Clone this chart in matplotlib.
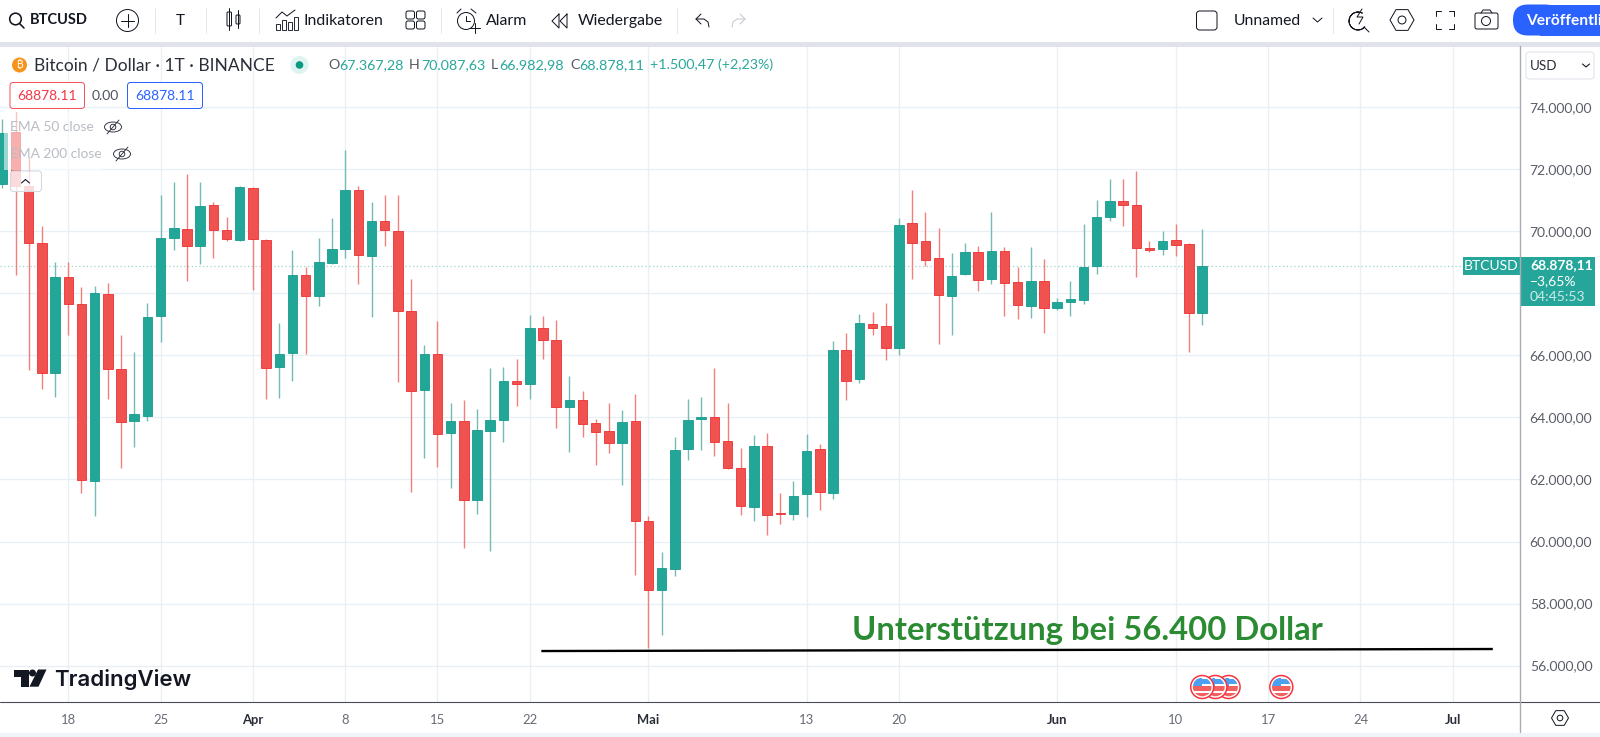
import numpy as np
import pandas as pd
import matplotlib
matplotlib.use("Agg")
import matplotlib.pyplot as plt
import matplotlib.dates as mdates
from matplotlib.patches import Rectangle, Circle, FancyBboxPatch, Polygon, Wedge, RegularPolygon

# ---------- data (USD, daily candles) ----------
first_day = "2024-03-13"
opens = [71514,73191,71460,69633,65442,68516,67667,61960,67989,65571,63884,64056,67269,69773,70063,69537,70837,70031,69719,71385,
         69719,65625,66087,68591,67925,68988,69440,71331,69203,70321,70009,67441,64894,66033,63486,63894,61347,63572,63926,65162,
         65066,66893,66484,64346,64550,63808,63550,63174,63894,60670,58445,59112,62970,63959,64002,63228,62357,61121,63088,60907,
         60896,61530,62970,61573,66173,65249,67011,66947,66227,70267,69687,69139,67925,68612,69322,68473,69375,68355,67602,68387,
         67527,67720,67785,68881,70472,70987,70837,69461,69429,69719,69580,67367]
closes = [73180,71460,69633,65442,68516,67667,61992,68021,65571,63862,64109,67237,69773,70095,69537,70815,70031,69741,71417,69752,
          65603,66055,68591,67925,68999,69429,71331,69225,70321,70031,67441,64861,66033,63464,63894,61347,63583,63926,65173,65066,
          66893,66506,64324,64550,63776,63540,63174,63862,60670,58445,59133,62938,63916,64012,63196,62357,61154,63088,60864,60885,
          61465,62905,61584,66173,65184,67033,66893,66248,70203,69633,69085,67957,68559,69322,68440,69375,68333,67634,68387,67527,
          67731,67817,68849,70461,70977,70837,69461,69397,69687,69569,67376,68878]
highs = [73620,73835,72406,70181,68999,68999,68193,68247,68344,66646,66098,67677,71170,71600,71858,71600,70934,70450,71460,71417,
         69741,67033,69408,68859,69773,70418,72610,71460,70934,71170,71170,68452,66323,67097,64453,64560,64270,65603,65625,65882,
         67301,67269,67129,65334,64851,63948,64475,64238,64743,60821,59660,63378,64593,64646,65603,64453,63002,63432,63486,61551,
         61938,63454,63132,66463,66732,67333,67387,67677,70418,71321,70622,70095,69289,69612,69526,70622,69483,68860,69483,69096,
         67839,68397,70246,71020,71686,71686,71944,69698,70009,70246,69612,70088]
lows = [71407,68591,65528,64915,64668,66656,61573,60831,64604,62358,63056,63884,66441,69397,68408,68935,69128,69676,69698,68107,
        64604,64636,65184,66044,67602,68935,69128,68301,67226,69537,65152,61605,62701,62411,61723,59800,60885,59703,63217,64378,
        64604,65893,63658,62873,63368,62476,62841,61831,58929,56554,56995,58897,62637,62949,62766,62325,60853,60649,60219,60573,
        60702,60799,61015,61380,64561,65098,66656,65840,66022,68473,68881,66366,66656,68591,68086,68301,67258,67172,67204,66710,
        67462,67258,67667,68612,70332,70171,68526,69343,69236,69203,66108,66983]
price_ticks = [56000,58000,60000,62000,64000,66000,68000,70000,72000,74000]
hidden_price_labels = [68000]   # covered by the last-price box
date_ticks = ["2024-03-18","2024-03-25","2024-04-01","2024-04-08","2024-04-15","2024-04-22","2024-05-01","2024-05-13",
              "2024-05-20","2024-06-01","2024-06-10","2024-06-17","2024-06-24","2024-07-01"]
date_labels = ["18","25","Apr","8","15","22","Mai","13","20","Jun","10","17","24","Jul"]
bold_labels = ["Apr","Mai","Jun","Jul"]
last_price = 68878.11
support_level = [56469,56534]
support_dates = ["2024-04-22 21:00","2024-07-04 01:00"]
support_text = "Unterstützung bei 56.400 Dollar"
event_dates = ["2024-06-14","2024-06-13","2024-06-12","2024-06-18"]

# ---------- colours / fonts ----------
UP, DOWN = "#22a698", "#f0524f"
UP_WICK, DOWN_WICK = "#74bcb3", "#f37f7d"
GRID = "#e9f0f5"
FONT = "Lato"
plt.rcParams["font.family"] = [FONT, "DejaVu Sans"]

W, H = 1600, 737
fig = plt.figure(figsize=(W/100, H/100), dpi=100, facecolor="white")

# ---------- main chart ----------
ax = fig.add_axes([0, (H-702)/H, 1520/W, (702-46)/H], zorder=1)
days = pd.date_range(first_day, periods=len(opens))
x = mdates.date2num(days)
o, c, h, l = map(np.array, (opens, closes, highs, lows))
up = c >= o
ax.vlines(x[up], l[up], h[up], color=UP_WICK, lw=1.0, zorder=3)
ax.vlines(x[~up], l[~up], h[~up], color=DOWN_WICK, lw=1.0, zorder=3)
ax.bar(x[up], (c-o)[up], bottom=o[up], width=0.72, color=UP, edgecolor="#169c8e", lw=0.6, zorder=4)
ax.bar(x[~up], (o-c)[~up], bottom=c[~up], width=0.72, color=DOWN, edgecolor="#ee2f33", lw=0.6, zorder=4)

x0 = mdates.date2num(pd.Timestamp("2024-03-18"))
ax.set_xlim(x0-68.3/13.185, x0+(1520-68.3)/13.185)
ax.set_ylim(54826, 75974)
tick_x = mdates.date2num(pd.to_datetime(date_ticks))
ax.set_xticks(tick_x)
ax.set_xticklabels(date_labels, fontsize=9.4, color="#686b76")
for t in ax.get_xticklabels():
    if t.get_text() in bold_labels:
        t.set_color("#2a2e39"); t.set_fontweight("bold")
ax.yaxis.tick_right()
ax.set_yticks(price_ticks)
ax.set_yticklabels(["" if v in hidden_price_labels else
                    f"{v:,.2f}".replace(",", "X").replace(".", ",").replace("X", ".") for v in price_ticks],
                   fontsize=10, color="#5b5e68")
ax.tick_params(axis="x", length=0, pad=8.5)
ax.tick_params(axis="y", length=0, pad=7)
ax.grid(True, color=GRID, lw=1.0, zorder=0)
ax.set_axisbelow(True)
for s in ax.spines.values():
    s.set_visible(False)
ax.axhline(last_price, color="#9fd3cd", lw=0.9, ls=(0, (1, 2)), zorder=2)
ax.plot(mdates.date2num(pd.to_datetime(support_dates)), support_level, color="#000000", lw=1.7, zorder=6,
        solid_capstyle="butt")
ax.text(mdates.date2num(pd.Timestamp("2024-05-13")) + 3.45, 56830, support_text, fontsize=23.6, fontweight="bold",
        color="#2b8b33", va="baseline", ha="left", zorder=7)

# ---------- chrome overlay in pixels ----------
ui = fig.add_axes([0, 0, 1, 1], zorder=5)
ui.set_xlim(0, W); ui.set_ylim(H, 0); ui.axis("off"); ui.patch.set_alpha(0)
INK = "#131722"
def px(v): return v*0.72
def line(xs, ys, color=INK, lw=1.0, **k):
    ui.plot(xs, ys, color=color, lw=px(lw), solid_capstyle="round", **k)
def txt(xp, yp, s, size=10, color=INK, ha="left", weight="normal", **k):
    ui.text(xp, yp, s, fontsize=size, color=color, ha=ha, va="center", fontweight=weight, **k)
def rect(x0_, y0_, x1_, y1_, **k):
    ui.add_patch(Rectangle((x0_, y0_), x1_-x0_, y1_-y0_, **k))
def rbox(x0_, y0_, x1_, y1_, r=3, **k):
    ui.add_patch(FancyBboxPatch((x0_+r, y0_+r), x1_-x0_-2*r, y1_-y0_-2*r, boxstyle=f"round,pad={r}", mutation_aspect=1, **k))

# bands and axis lines
rect(0, 42, W, 46.5, fc="#e0e3eb", ec="none")
rect(0, 732.5, W, H, fc="#f0f3fa", ec="none")
line([0, W], [702, 702], "#4a4d58", 1.1)
line([1520, 1520], [46, 732], "#a9acb4", 1.4)

# legend masks over candles
rect(3.5, 113, 100, 170, fc="white", alpha=0.55, ec="none")
rbox(10.5, 171, 41.5, 191.5, r=3, fc=(1, 1, 1, 0.8), ec="#d6d9e0", lw=0.8)
line([21.5, 25.5, 29.5], [183, 179.5, 183], INK, 1.1)

# toolbar left
ui.add_patch(Circle((15.5, 19), 5.8, fc="none", ec=INK, lw=px(1.6)))
line([19.5, 24], [23.5, 28], INK, 1.6)
txt(30, 20, "BTCUSD", 10.5, INK, weight="bold")
ui.add_patch(Circle((127.5, 20.5), 11, fc="none", ec=INK, lw=px(1.0)))
line([127.5, 127.5], [14, 27], INK, 1.0); line([121, 134], [20.5, 20.5], INK, 1.0)
for sx in [155, 206, 259, 441, 676.5, 1333]:
    line([sx, sx], [8, 33], "#e4e6eb", 1.0)
txt(180, 20.5, "T", 11, INK, ha="center")
rbox(227, 12, 231.5, 26, r=1, fc="none", ec=INK, lw=px(1))
rbox(236, 15, 240, 24, r=1, fc="none", ec=INK, lw=px(1))
line([229.2, 229.2], [8, 30], INK, 1); line([238, 238], [10, 28], INK, 1)
for bx, by in [(276, 24), (282, 20), (288, 22), (294, 17)]:
    ui.add_patch(Rectangle((bx, by), 4, 30-by, fc="none", ec=INK, lw=px(0.9)))
line([276, 282, 287, 295], [18, 12, 16, 10], INK, 1)
txt(303.5, 20.5, "Indikatoren", 11.4, INK)
for qx in [406, 416.5]:
    for qy in [11, 21]:
        rbox(qx, qy, qx+8.5, qy+8, r=2, fc="none", ec=INK, lw=px(1))
ui.add_patch(Circle((466, 21), 8.5, fc="none", ec=INK, lw=px(1)))
line([466, 466, 470], [16, 21, 21], INK, 1); line([457, 461], [13, 9], INK, 1); line([471, 476], [9, 13], INK, 1)
line([470, 480], [28, 28], INK, 1); line([475, 475], [23, 33], INK, 1)
txt(486, 20.5, "Alarm", 11.4, INK)
line([559, 552, 559, 559], [14, 21, 28, 14], INK, 1); line([567, 560, 567, 567], [14, 21, 28, 14], INK, 1)
txt(577.5, 20.5, "Wiedergabe", 11.4, INK)
line([701, 696, 701], [14, 19, 24], INK, 1); line([696, 704, 708, 709], [19, 19, 22, 27], INK, 1)
line([740, 745, 740], [14, 19, 24], "#c5c8cf", 1); line([745, 737, 733, 732], [19, 19, 22, 27], "#c5c8cf", 1)

# toolbar right
rbox(1196.5, 11, 1217, 30, r=3, fc="none", ec=INK, lw=px(1))
txt(1234, 20.5, "Unnamed", 11.3, INK)
line([1313, 1317.5, 1322], [18, 22, 18], INK, 1)
ui.add_patch(Wedge((1358, 21), 9, 40, 300, width=0.1, fc="none", ec=INK, lw=px(1)))
line([1364, 1369], [27, 32], INK, 1); line([1362, 1357, 1363, 1359], [9, 17, 17, 24], INK, 1)
for gx, gy, gr in [(1402, 20, 12), (1560, 718, 8.5)]:
    ui.add_patch(RegularPolygon((gx, gy), 6, radius=gr, orientation=np.pi/6, fc="none", ec=INK, lw=px(1)))
    ui.add_patch(Circle((gx, gy), gr*0.33, fc="none", ec=INK, lw=px(1)))
for cx, cy, dx, dy in [(1436, 11, 1, 1), (1454, 11, -1, 1), (1436, 29, 1, -1), (1454, 29, -1, -1)]:
    line([cx+5*dx, cx, cx], [cy, cy, cy+5*dy], INK, 1)
rbox(1475, 13, 1498, 29, r=2, fc="none", ec=INK, lw=px(1))
line([1481, 1483, 1490, 1492], [13, 10, 10, 13], INK, 1)
ui.add_patch(Circle((1486, 21), 4.5, fc="none", ec=INK, lw=px(1)))
rbox(1513, 4.5, 1560, 35.5, r=15, fc="#2962ff", ec="none")
rect(1540, 4.5, W, 35.5, fc="#2962ff", ec="none")
txt(1526.5, 20.5, "Veröffentli", 11.2, "white", weight="bold")

# legend
ui.add_patch(Circle((19.5, 65), 7.5, fc="#f7931a", ec="none"))
txt(19.5, 65, "₿", 7.5, "white", ha="center", family=["Inter", "Noto Sans", "Roboto", "Open Sans", "DejaVu Sans"])
txt(34.5, 65.5, "Bitcoin / Dollar · 1T · BINANCE", 12.5, "#2a2e39")
ui.add_patch(Circle((299.5, 65), 9, fc="#dff3f0", ec="none"))
ui.add_patch(Circle((299.5, 65), 3.8, fc="#089981", ec="none"))
TEAL, LG = "#2aa79b", "#555862"
for xp, s, col in [(328, "O", LG), (339, "67.367,28", TEAL), (409, "H", LG), (421, "70.087,63", TEAL),
                   (491, "L", LG), (499, "66.982,98", TEAL), (570, "C", LG), (579, "68.878,11", TEAL),
                   (650, "+1.500,47 (+2,23%)", TEAL)]:
    txt(xp, 65, s, 10.3, col)
rbox(10, 82.5, 84.5, 108.5, r=3, fc="white", ec="#f7525f", lw=px(1))
txt(47, 95.5, "68878.11", 10, "#f23645", ha="center")
txt(105.5, 95.5, "0.00", 10, "#50535e", ha="center")
rbox(127.5, 82.5, 202.5, 108.5, r=3, fc="white", ec="#2962ff", lw=px(1))
txt(165, 95.5, "68878.11", 10, "#2962ff", ha="center")
for ty, s, ex in [(127, "EMA 50 close", 113), (154, "EMA 200 close", 122)]:
    txt(10, ty, s, 9.9, "#b9bcc4")
    ui.add_patch(matplotlib.patches.Ellipse((ex, ty), 17, 10, fc="none", ec="#2a2e39", lw=px(0.9)))
    ui.add_patch(Circle((ex, ty), 2.8, fc="none", ec="#2a2e39", lw=px(0.9)))
    line([ex-6, ex+6], [ty+7, ty-7], "#2a2e39", 0.9)

# price scale chrome
rbox(1526, 52, 1594, 79, r=3, fc="white", ec="#e0e3eb", lw=px(1))
txt(1530, 65.5, "USD", 9.6, "#2a2e39")
line([1582.5, 1586, 1589.5], [64, 67, 64], INK, 1.1)
rect(1462.7, 256.7, 1519.5, 275, fc="#26a69a", ec="none")
txt(1491, 266, "BTCUSD", 10, "white", ha="center")
rect(1520.7, 257, 1594.5, 306, fc="#26a69a", ec="none")
txt(1530, 265.5, "68.878,11", 10, "white", weight="bold")
txt(1530, 281.5, "−3,65%", 10, "white")
txt(1530, 297, "04:45:53", 10, "#c9ebe7")

# TradingView logo
ui.add_patch(Polygon([(13.6, 669.5), (28.5, 669.5), (28.5, 686.7), (21, 686.7), (21, 676.5), (13.6, 676.5)], fc=INK, ec="none"))
ui.add_patch(Circle((32.5, 673), 3.5, fc=INK, ec="none"))
ui.add_patch(Polygon([(38, 669.5), (46.5, 669.5), (38.5, 686.7), (29.5, 686.7)], fc=INK, ec="none"))
ui.text(54, 686.5, "TradingView", fontsize=16, fontweight="semibold", color=INK, family=["Inter", "DejaVu Sans"], va="baseline")

# economic event markers (US flag badges)
ev_x = (mdates.date2num(pd.to_datetime(event_dates)) - x0)*13.185 + 68.3
for ex in ev_x:
    ui.add_patch(Circle((ex, 687), 11.5, fc="white", ec="#f7323c", lw=px(1.5)))
    clip = Circle((ex, 687), 9.3, transform=ui.transData)
    for sy, sh, col in [(679, 4.5, "#4da0f0"), (686, 4.5, "#f2615f"), (693, 4, "#f2615f")]:
        r_ = Rectangle((ex-10, sy), 20, sh, fc=col, ec="none")
        ui.add_patch(r_); r_.set_clip_path(clip)
    r_ = Rectangle((ex-10, 678), 10, 8, fc="#4da0f0", ec="none")
    ui.add_patch(r_); r_.set_clip_path(clip)

fig.savefig("out.png", dpi=100)
